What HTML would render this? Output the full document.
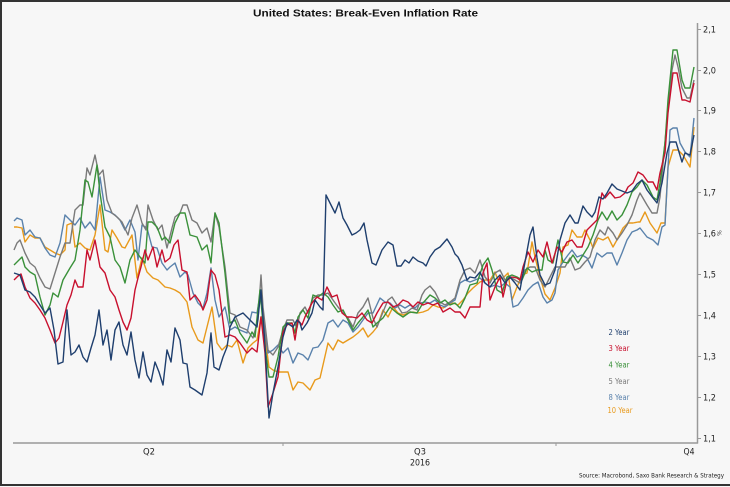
<!DOCTYPE html>
<html><head><meta charset="utf-8"><style>
html,body{margin:0;padding:0;background:#f7f7f7;}
#c{position:relative;width:730px;height:487px;overflow:hidden;background:#f7f7f7;}
svg{position:absolute;left:0;top:0;}
</style></head><body><div id="c">
<svg width="730" height="487" viewBox="0 0 730 487" xmlns="http://www.w3.org/2000/svg">
<rect x="0" y="0" width="730" height="487" fill="#f7f7f7"/>
<!-- frame -->
<g stroke="#333" stroke-width="2">
<line x1="0" y1="1" x2="730" y2="1"/>
<line x1="1" y1="0" x2="1" y2="486"/>
<line x1="0" y1="485" x2="730" y2="485"/>
</g>
<!-- title -->
<text x="365.5" y="16.5" text-anchor="middle" font-family="Liberation Sans, DejaVu Sans, sans-serif" font-size="10.5" font-weight="bold" fill="#111" textLength="225" lengthAdjust="spacingAndGlyphs">United States: Break-Even Inflation Rate</text>
<!-- axes -->
<line x1="13" y1="443" x2="698" y2="443" stroke="#999" stroke-width="1.5"/>
<line x1="697.5" y1="23" x2="697.5" y2="443.5" stroke="#999" stroke-width="1.5"/>
<g stroke="#999" stroke-width="1">
<line x1="283" y1="443" x2="283" y2="446"/>
<line x1="556" y1="443" x2="556" y2="446"/>
<line x1="697" y1="29.5" x2="701" y2="29.5"/>
<line x1="697" y1="70.5" x2="701" y2="70.5"/>
<line x1="697" y1="110.5" x2="701" y2="110.5"/>
<line x1="697" y1="151.5" x2="701" y2="151.5"/>
<line x1="697" y1="192.5" x2="701" y2="192.5"/>
<line x1="697" y1="233.5" x2="701" y2="233.5"/>
<line x1="697" y1="274.5" x2="701" y2="274.5"/>
<line x1="697" y1="315.5" x2="701" y2="315.5"/>
<line x1="697" y1="356.5" x2="701" y2="356.5"/>
<line x1="697" y1="397.5" x2="701" y2="397.5"/>
<line x1="697" y1="438.5" x2="701" y2="438.5"/>
</g>
<g font-family="DejaVu Sans, Liberation Sans, sans-serif" font-size="9" fill="#222">
<text x="703" y="32.5" textLength="13" lengthAdjust="spacingAndGlyphs">2,1</text>
<text x="703" y="73.5" textLength="13" lengthAdjust="spacingAndGlyphs">2,0</text>
<text x="703" y="113.5" textLength="13" lengthAdjust="spacingAndGlyphs">1,9</text>
<text x="703" y="154.5" textLength="13" lengthAdjust="spacingAndGlyphs">1,8</text>
<text x="703" y="195.5" textLength="13" lengthAdjust="spacingAndGlyphs">1,7</text>
<text x="703" y="236.5" textLength="13" lengthAdjust="spacingAndGlyphs">1,6</text>
<text x="703" y="277.5" textLength="13" lengthAdjust="spacingAndGlyphs">1,5</text>
<text x="703" y="318.5" textLength="13" lengthAdjust="spacingAndGlyphs">1,4</text>
<text x="703" y="359.5" textLength="13" lengthAdjust="spacingAndGlyphs">1,3</text>
<text x="703" y="400.5" textLength="13" lengthAdjust="spacingAndGlyphs">1,2</text>
<text x="703" y="441.5" textLength="13" lengthAdjust="spacingAndGlyphs">1,1</text>
<text x="149" y="454.5" text-anchor="middle" textLength="12" lengthAdjust="spacingAndGlyphs">Q2</text>
<text x="420" y="454.5" text-anchor="middle" textLength="12" lengthAdjust="spacingAndGlyphs">Q3</text>
<text x="420" y="465.5" text-anchor="middle" textLength="20" lengthAdjust="spacingAndGlyphs">2016</text>
<text x="689" y="454.5" text-anchor="middle" textLength="11" lengthAdjust="spacingAndGlyphs">Q4</text>
</g>
<text transform="translate(717,233) rotate(90)" text-anchor="middle" font-family="DejaVu Sans, sans-serif" font-size="6" fill="#444">%</text>
<text x="579" y="477.5" font-family="DejaVu Sans, Liberation Sans, sans-serif" font-size="6.5" fill="#222" textLength="145" lengthAdjust="spacingAndGlyphs">Source: Macrobond, Saxo Bank Research &amp; Strategy</text>
<!-- legend -->
<g font-family="DejaVu Sans, Liberation Sans, sans-serif" font-size="8" text-anchor="middle">
<text x="619" y="335" fill="#1f3f6e" textLength="21" lengthAdjust="spacingAndGlyphs">2 Year</text>
<text x="619" y="351" fill="#c8102e" textLength="21" lengthAdjust="spacingAndGlyphs">3 Year</text>
<text x="619" y="367.5" fill="#3a913a" textLength="21" lengthAdjust="spacingAndGlyphs">4 Year</text>
<text x="619" y="384" fill="#7a7a7a" textLength="21" lengthAdjust="spacingAndGlyphs">5 Year</text>
<text x="619" y="400" fill="#5a82ac" textLength="21" lengthAdjust="spacingAndGlyphs">8 Year</text>
<text x="620" y="413" fill="#e89a1c" textLength="25" lengthAdjust="spacingAndGlyphs">10 Year</text>
</g>
<g fill="none" stroke-width="1.4" stroke-linejoin="round">
<!-- 10 Year -->
<polyline stroke="#e89a1c" points="14,227 17,227 22,228 25,242 30,235 35,238 40,238 45,247 50,250 55,253 60,255 65,250 67,225 72,223 75,247 80,243 85,248 90,250 95,235 100,205 105,250 108,252 112,230 117,238 122,247 125,248 132,235 137,278 142,258 147,272 153,278 158,280 165,287 170,288 175,290 180,293 187,302 192,327 198,340 203,343 208,323 212,307 217,343 222,350 227,345 232,347 237,340 243,363 248,348 253,343 257,340 261,317 265,337 269,367 273,370 278,372 283,372 288,372 293,390 298,382 303,383 310,390 315,380 320,378 323,365 328,343 333,350 338,340 343,343 348,340 353,337 358,333 363,328 368,337 373,332 377,327 383,310 388,317 393,307 398,313 403,315 408,313 413,312 418,313 423,312 428,310 433,305 438,307 443,308 448,305 453,303 458,305 463,300 468,293 473,288 480,282 485,280 490,280 495,272 498,280 503,278 508,273 512,300 517,287 522,275 527,273 532,242 535,257 540,277 545,294 550,300 555,288 560,273 563,247 568,245 572,230 577,237 582,237 585,230 590,240 593,248 598,238 603,240 608,237 613,247 618,238 623,228 628,223 633,223 638,222 640,222 645,212 650,223 657,233 661,223 665,223 668,167 673,150 678,150 683,155 690,167 694,127"/>
<!-- 8 Year -->
<polyline stroke="#5a82ac" points="14,221 17,218 22,220 25,235 30,230 35,237 40,238 45,248 50,255 55,257 60,243 65,215 68,218 72,222 75,225 80,218 85,228 90,222 95,230 100,177 105,210 110,212 115,215 120,220 125,230 130,220 135,232 138,260 142,225 147,228 152,247 157,248 162,263 167,270 170,267 175,263 180,277 185,272 188,275 193,293 198,303 203,308 207,293 211,268 215,300 219,317 225,307 230,330 235,327 240,330 247,333 252,312 257,313 261,290 265,330 268,353 273,350 278,345 283,353 288,348 293,363 298,353 303,355 308,360 313,348 318,347 323,340 328,323 333,320 338,327 343,320 348,323 353,332 358,327 363,320 368,313 373,313 380,298 385,302 390,303 395,308 400,305 405,308 410,305 415,308 420,303 425,302 430,303 435,300 440,305 445,307 450,303 455,300 460,283 465,280 470,282 475,280 480,278 485,283 490,287 495,285 500,287 505,283 510,287 513,307 518,305 523,298 528,290 533,285 538,282 543,297 547,303 552,300 555,293 558,270 563,262 568,255 572,250 577,257 582,255 587,258 592,268 597,253 602,257 607,253 612,253 617,265 622,253 627,240 632,232 637,230 640,228 647,237 653,240 658,245 662,227 665,225 670,130 673,128 677,128 680,143 685,152 690,157 694,118"/>
<!-- 5 Year -->
<polyline stroke="#7a7a7a" points="14,250 17,243 20,240 25,253 30,263 35,267 40,278 45,287 50,289 55,273 60,257 65,243 70,243 75,210 80,205 83,205 87,168 90,175 95,155 99,175 103,170 107,200 112,213 117,217 122,222 128,235 132,218 137,205 142,223 146,230 148,205 153,220 158,230 162,225 167,248 172,228 175,217 180,213 183,205 187,205 192,220 197,223 202,233 207,228 211,242 215,213 219,227 225,267 230,313 235,315 240,327 247,330 253,338 258,320 261,275 263,307 268,350 273,355 278,347 283,330 287,320 293,320 297,328 300,313 305,307 308,313 313,298 318,295 323,295 328,293 333,300 338,307 343,313 348,318 353,327 358,313 363,307 368,298 373,318 377,327 383,312 388,300 392,297 397,305 402,313 407,312 412,308 417,310 422,295 425,290 430,286 435,292 440,302 445,305 450,302 455,298 460,280 465,270 470,268 475,273 480,260 485,277 490,283 495,273 500,270 505,280 510,277 515,280 520,283 525,270 530,267 535,267 540,280 545,287 550,277 555,267 560,267 565,267 570,258 575,270 580,268 585,262 590,257 595,240 600,230 605,235 608,227 613,233 617,240 622,233 627,225 632,215 637,200 640,193 647,205 652,213 657,213 660,197 667,120 672,70 675,55 678,67 682,88 687,98 690,98 694,80"/>
<!-- 4 Year -->
<polyline stroke="#3a913a" points="14,265 17,262 22,257 25,267 30,272 35,275 40,297 45,315 50,305 53,293 58,297 63,280 70,268 75,260 80,230 85,180 88,182 92,197 97,165 100,193 105,227 110,237 115,260 120,267 125,283 130,260 135,250 140,257 145,263 148,222 152,222 157,227 162,240 165,237 170,243 175,223 180,213 185,213 190,235 197,237 202,250 207,245 211,263 215,213 219,223 225,273 230,323 235,320 240,333 247,343 252,332 255,337 260,290 265,347 269,377 273,377 278,357 283,327 287,323 292,323 295,333 298,317 303,310 308,318 313,295 318,297 323,293 328,297 333,305 338,312 343,310 348,320 353,330 358,323 363,317 368,310 373,327 377,323 383,318 390,307 397,313 403,317 410,312 417,313 423,303 430,295 435,298 440,303 445,300 450,305 455,303 460,308 465,298 470,285 477,283 483,265 488,258 492,270 497,290 502,293 507,277 512,275 517,277 522,280 527,268 532,272 537,270 542,270 545,250 548,260 553,263 558,240 563,262 568,263 573,255 578,263 583,255 588,247 593,235 598,220 602,212 607,220 612,211 617,220 622,215 627,205 632,192 637,187 642,180 647,185 653,197 657,200 660,183 665,143 668,100 673,50 677,50 682,80 685,88 690,88 694,67"/>
<!-- 3 Year -->
<polyline stroke="#c8102e" points="14,280 18,276 21,274 25,287 30,298 35,303 40,310 45,318 50,330 55,343 59,338 63,322 67,305 71,295 75,280 78,287 83,287 87,250 90,260 95,240 100,267 105,273 110,290 115,297 119,310 123,322 127,330 131,318 135,290 138,278 141,267 145,250 148,260 153,247 157,267 162,250 165,262 170,258 174,245 178,240 182,270 187,272 190,300 195,295 200,302 203,310 207,300 211,270 215,275 219,290 225,337 230,335 235,337 240,343 247,353 252,348 257,352 261,317 265,353 268,407 273,393 278,377 283,332 287,325 292,323 295,340 298,320 302,325 305,317 312,303 317,297 322,300 327,287 332,297 337,295 342,313 347,317 352,317 357,318 362,313 367,320 372,323 377,313 383,303 388,302 393,307 398,305 403,300 408,302 413,307 418,302 423,305 428,303 433,305 438,303 443,312 450,308 455,312 460,312 465,318 470,307 475,307 480,307 483,273 487,263 490,300 495,287 500,277 503,297 507,280 512,277 517,278 520,280 523,267 528,252 533,262 538,250 543,257 547,242 552,263 557,247 562,252 567,242 572,240 577,247 582,247 587,230 592,225 597,220 602,193 605,198 610,192 615,198 620,197 625,193 628,187 633,183 638,172 643,175 648,182 653,182 657,190 660,173 665,153 668,113 673,73 677,73 682,100 685,100 690,102 694,83"/>
<!-- 2 Year -->
<polyline stroke="#1f3f6e" points="14,273 20,275 25,290 30,292 35,297 40,305 45,313 50,308 54,330 58,364 63,362 67,310 71,355 75,352 79,345 83,357 87,362 91,348 95,335 99,310 103,345 107,330 111,360 115,330 119,322 123,345 127,355 131,332 135,360 139,378 143,352 147,375 151,382 155,362 159,372 163,385 167,350 171,362 175,328 180,340 183,363 187,364 190,387 195,390 202,395 207,373 211,333 214,367 219,370 223,357 227,347 230,327 235,317 243,313 250,320 257,327 261,290 265,345 269,418 273,393 278,367 283,337 287,323 293,327 297,320 300,323 302,330 307,323 312,313 315,300 320,307 323,310 326,195 331,205 335,213 339,202 343,218 347,225 352,235 356,233 360,230 364,223 367,240 372,263 376,265 382,250 388,242 393,245 397,266 401,266 405,260 409,263 413,257 418,261 423,263 426,266 430,257 435,250 440,247 447,239 452,247 455,254 458,257 462,265 467,280 470,277 475,278 480,272 485,283 490,287 495,280 500,275 505,283 510,277 515,283 520,290 525,262 530,235 533,227 537,258 540,275 545,285 550,283 555,270 560,240 565,223 570,215 575,223 578,223 583,206 587,212 592,217 595,212 599,197 603,199 607,193 612,184 617,189 622,191 627,193 632,191 637,184 642,180 647,190 653,198 657,203 662,183 667,153 670,142 676,142 682,162 685,153 690,155 694,135"/>
</g>
</svg>
</div></body></html>
